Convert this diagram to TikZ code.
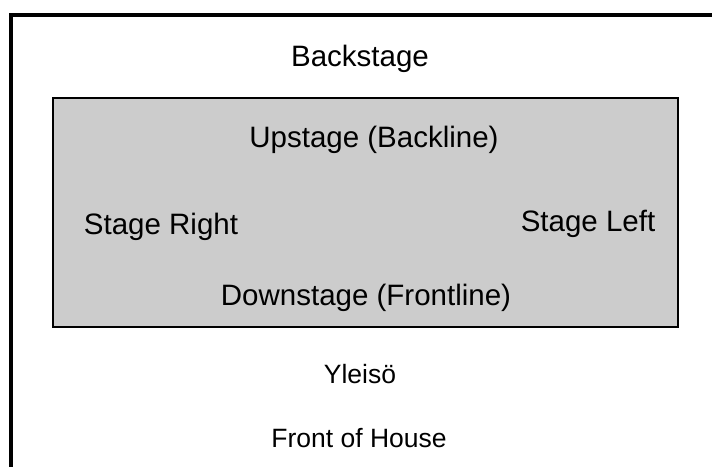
\documentclass[tikz,border=0pt]{standalone}
\usepackage{fontspec}
\setmainfont{Liberation Sans}
\begin{document}
\begin{tikzpicture}[x=1pt,y=-1pt,
  lbl/.style={anchor=base,inner sep=0pt,font=\fontsize{29.5}{35}\selectfont},
  lblsmall/.style={anchor=base,inner sep=0pt,font=\fontsize{26.5}{32}\selectfont},
  frame/.style={draw=black,line width=4pt,line join=miter},
  stagearea/.style={draw=black,line width=1.6pt,fill=stagegray}]
\definecolor{stagegray}{HTML}{CCCCCC}
\useasboundingbox (0,0) rectangle (712,466);
% theatre outline, open towards the audience side
\coordinate (fl) at (10.5,480);
\coordinate (tl) at (10.5,15.3);
\coordinate (tr) at (730,15.3);
\draw[frame] (fl) -- (tl) -- (tr);
% playing area
\node[stagearea,minimum width=624.7pt,minimum height=228.7pt,inner sep=0pt,anchor=north west] (stage) at (52.3,97.3) {};
\node[lbl] (back) at (360,66) {Backstage};
\node[lbl] (up) at (374,147) {Upstage (Backline)};
\node[lbl] (sr) at (161,234) {Stage Right};
\node[lbl] (sl) at (588,231) {Stage Left};
\node[lbl] (down) at (366,305) {Downstage (Frontline)};
% audience side
\node[lblsmall] (aud) at (360,383) {Yleisö};
\node[lblsmall] (foh) at (359,447) {Front of House};
\end{tikzpicture}
\end{document}
